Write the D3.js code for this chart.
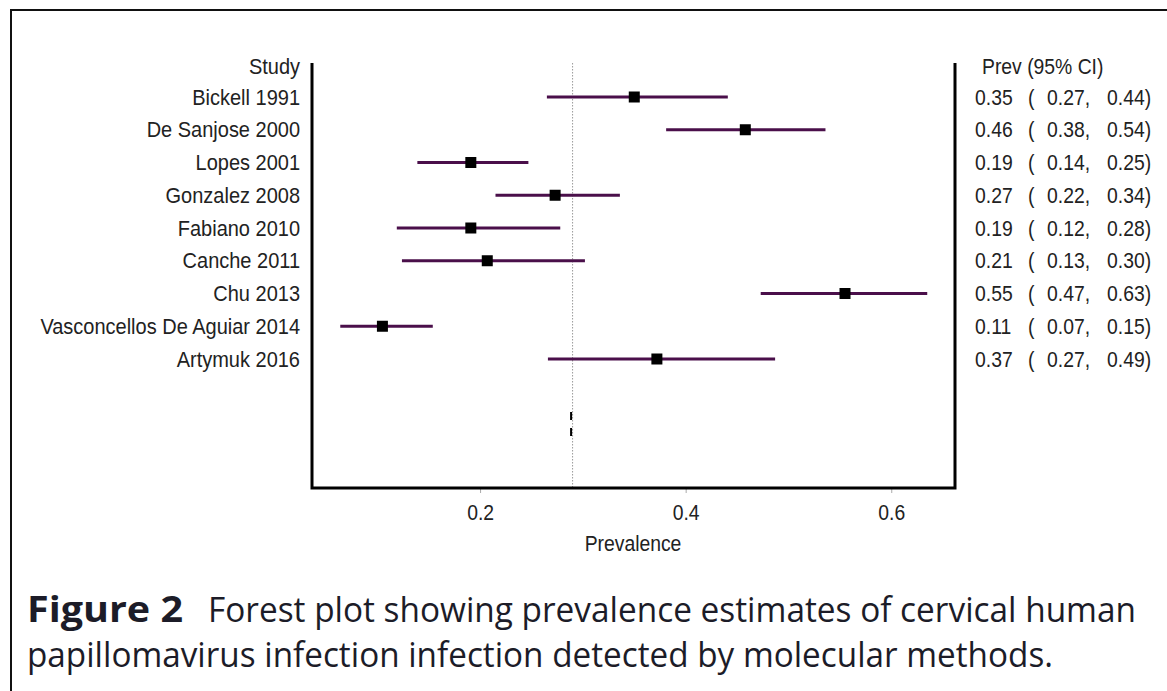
<!DOCTYPE html>
<html>
<head>
<meta charset="utf-8">
<script src="https://cdn.jsdelivr.net/npm/d3@7"></script>
<style>
body { margin: 0; background: #fff; }
svg { display: block; }
</style>
</head>
<body>
<div id="chart"></div>
<script>
var studies = ["Bickell 1991", "De Sanjose 2000", "Lopes 2001", "Gonzalez 2008", "Fabiano 2010",
	"Canche 2011", "Chu 2013", "Vasconcellos De Aguiar 2014", "Artymuk 2016"];
var prev = [0.35, 0.458, 0.191, 0.273, 0.191, 0.207, 0.555, 0.105, 0.372];
var ci_low = [0.265, 0.381, 0.139, 0.215, 0.119, 0.124, 0.473, 0.064, 0.266];
var ci_high = [0.441, 0.536, 0.247, 0.336, 0.278, 0.302, 0.635, 0.154, 0.487];
var prev_text = ["0.35", "0.46", "0.19", "0.27", "0.19", "0.21", "0.55", "0.11", "0.37"];
var low_text = ["0.27", "0.38", "0.14", "0.22", "0.12", "0.13", "0.47", "0.07", "0.27"];
var high_text = ["0.44", "0.54", "0.25", "0.34", "0.28", "0.30", "0.63", "0.15", "0.49"];
var x_ticks = [0.2, 0.4, 0.6];
var pooled = 0.29;

var width = 1167, height = 691;
var plot = {left: 312, right: 955, top: 63, bottom: 488};

var svg = d3.select("#chart").append("svg")
	.attr("width", width)
	.attr("height", height);

// outer frame, it runs off the right and bottom edges
svg.append("path")
	.attr("d", "M11," + (height + 5) + "V10H" + (width + 5))
	.attr("fill", "none")
	.attr("stroke", "#111")
	.attr("stroke-width", 2);

var x_scale = d3.scaleLinear()
	.domain([0.0365, 0.662])
	.range([plot.left, plot.right]);
var y_scale = d3.scaleLinear()
	.domain([0, studies.length - 1])
	.range([97, 359]);

var font = "'Liberation Sans', Arial, sans-serif";
var fsize = 21.5;
// the plot text is a bit taller than it is wide
function squeeze(x, y, sx) {
	return "translate(" + x + "," + y + ") scale(" + (sx || 0.9) + ",1)";
}

// reference line
svg.append("line")
	.attr("x1", x_scale(pooled)).attr("x2", x_scale(pooled))
	.attr("y1", plot.top).attr("y2", plot.bottom)
	.attr("stroke", "#999")
	.attr("stroke-width", 1)
	.attr("stroke-dasharray", "1.5,1.5");
svg.append("line")
	.attr("x1", x_scale(pooled) - 1.5).attr("x2", x_scale(pooled) - 1.5)
	.attr("y1", 412).attr("y2", 438)
	.attr("stroke", "#000")
	.attr("stroke-width", 2)
	.attr("stroke-dasharray", "8,8");

// x axis ticks
var svg_xAxis = d3.axisBottom(x_scale)
	.tickValues(x_ticks)
	.tickSize(5)
	.tickSizeOuter(0)
	.tickFormat(d3.format(".1f"));
var ax = svg.append("g")
	.attr("class", "x_axis")
	.attr("transform", "translate(0," + plot.bottom + ")")
	.call(svg_xAxis);
ax.select(".domain").remove();
ax.selectAll(".tick line").attr("stroke", "#aaa");
ax.selectAll(".tick text")
	.attr("y", null)
	.attr("dy", null)
	.attr("transform", "translate(0,32) scale(0.9,1)")
	.attr("font-family", font)
	.attr("font-size", fsize)
	.attr("fill", "#222");

svg.append("text")
	.attr("transform", squeeze(633, 551))
	.attr("text-anchor", "middle")
	.attr("font-family", font)
	.attr("font-size", fsize)
	.attr("fill", "#222")
	.text("Prevalence");

// plot box (left, bottom, right)
svg.append("path")
	.attr("d", "M" + plot.left + "," + plot.top + "V" + plot.bottom + "H" + plot.right + "V" + plot.top)
	.attr("fill", "none")
	.attr("stroke", "#000")
	.attr("stroke-width", 3);

// CI lines
svg.selectAll("line.ci")
	.data(studies)
	.enter()
	.append("line")
	.attr("class", "ci")
	.attr("x1", function(d, i) { return x_scale(ci_low[i]); })
	.attr("x2", function(d, i) { return x_scale(ci_high[i]); })
	.attr("y1", function(d, i) { return y_scale(i); })
	.attr("y2", function(d, i) { return y_scale(i); })
	.attr("stroke", "#4a0f4a")
	.attr("stroke-width", 3);

var sq = 11;
svg.selectAll("rect.est")
	.data(studies)
	.enter()
	.append("rect")
	.attr("class", "est")
	.attr("x", function(d, i) { return x_scale(prev[i]) - sq / 2; })
	.attr("y", function(d, i) { return y_scale(i) - sq / 2; })
	.attr("width", sq)
	.attr("height", sq)
	.attr("fill", "#000");

// study labels
svg.append("text")
	.attr("transform", squeeze(300, y_scale(-1) + 2, 0.93))
	.attr("dy", "0.35em")
	.attr("text-anchor", "end")
	.attr("font-family", font)
	.attr("font-size", fsize)
	.attr("fill", "#222")
	.text("Study");
svg.selectAll("text.study")
	.data(studies)
	.enter()
	.append("text")
	.attr("class", "study")
	.attr("transform", function(d, i) { return squeeze(300, y_scale(i), 0.93); })
	.attr("dy", "0.35em")
	.attr("text-anchor", "end")
	.attr("font-family", font)
	.attr("font-size", fsize)
	.attr("fill", "#222")
	.text(function(d) { return d; });

// right columns
svg.append("text")
	.attr("transform", squeeze(982, y_scale(-1) + 2))
	.attr("dy", "0.35em")
	.attr("font-family", font)
	.attr("font-size", fsize)
	.attr("fill", "#222")
	.text("Prev (95% CI)");

var cols = [
	{x: 975, txt: function(i) { return prev_text[i]; }},
	{x: 1028, txt: function() { return "("; }},
	{x: 1047, txt: function(i) { return low_text[i] + ","; }},
	{x: 1107, txt: function(i) { return high_text[i] + ")"; }}
];
cols.forEach(function(c, k) {
	svg.selectAll("text.col_" + k)
		.data(studies)
		.enter()
		.append("text")
		.attr("class", "col_" + k)
		.attr("transform", function(d, i) { return squeeze(c.x, y_scale(i)); })
		.attr("dy", "0.35em")
		.attr("font-family", font)
		.attr("font-size", fsize)
		.attr("fill", "#222")
		.text(function(d, i) { return c.txt(i); });
});

// caption
var cap = svg.append("g")
	.attr("font-family", "'Open Sans', 'Noto Sans', sans-serif")
	.attr("font-size", 34)
	.attr("fill", "#1c1c28");
cap.append("text").attr("x", 27).attr("y", 622)
	.attr("font-weight", "bold")
	.attr("font-size", 36)
	.attr("textLength", 156)
	.attr("lengthAdjust", "spacingAndGlyphs")
	.text("Figure 2");
cap.append("text").attr("x", 208).attr("y", 622)
	.attr("textLength", 928)
	.attr("lengthAdjust", "spacingAndGlyphs")
	.text("Forest plot showing prevalence estimates of cervical human");
cap.append("text").attr("x", 27).attr("y", 667)
	.attr("textLength", 1026)
	.attr("lengthAdjust", "spacingAndGlyphs")
	.text("papillomavirus infection infection detected by molecular methods.");
</script>
</body>
</html>
